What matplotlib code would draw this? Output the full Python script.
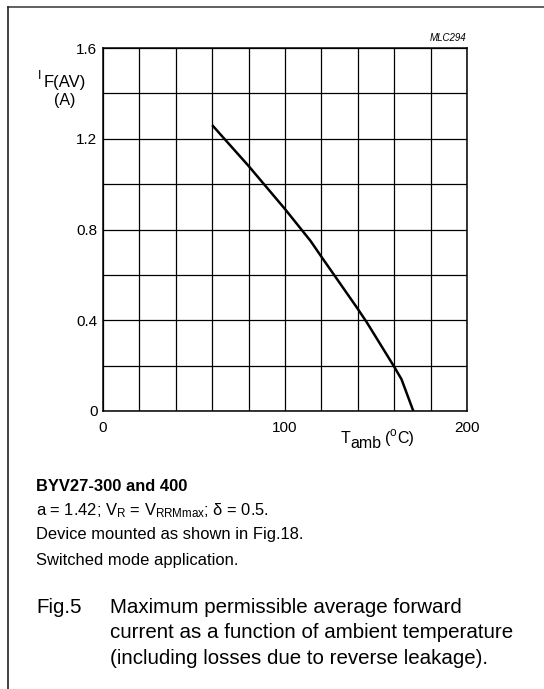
import matplotlib
matplotlib.use("Agg")
import matplotlib.pyplot as plt
from matplotlib.lines import Line2D

plt.rcParams['font.family'] = ['Liberation Sans', 'DejaVu Sans']
plt.rcParams['mathtext.fontset'] = 'custom'
plt.rcParams['mathtext.rm'] = 'Liberation Sans'
plt.rcParams['mathtext.it'] = 'Liberation Sans:italic'
plt.rcParams['mathtext.bf'] = 'Liberation Sans:bold'

# Derating curve: ambient temperature (°C) vs max average forward current (A)
t_amb = [60, 80, 100, 114, 120, 140, 145, 160, 164, 170.5]
i_fav = [1.26, 1.08, 0.89, 0.75, 0.68, 0.45, 0.39, 0.195, 0.14, 0.0]

x_ticks = [0, 100, 200]
y_ticks = [0, 0.4, 0.8, 1.2, 1.6]
y_tick_labels = ['0', '0.4', '0.8', '1.2', '1.6']
x_grid = list(range(0, 201, 20))
y_grid = [0, 0.2, 0.4, 0.6, 0.8, 1.0, 1.2, 1.4, 1.6]

W, H = 544, 689
fig = plt.figure(figsize=(W / 100, H / 100), dpi=100)
fig.patch.set_facecolor('white')


def fx(x):
    return x / W


def fy(y):
    return 1 - y / H


def put(x, y, s, size, **kw):
    kw.setdefault('va', 'baseline')
    kw.setdefault('ha', 'left')
    return fig.text(fx(x), fy(y), s, fontsize=size, **kw)


# open frame (top and left edges)
fig.add_artist(Line2D([fx(8), fx(544)], [fy(7), fy(7)], color='#444444', lw=1.2,
                      transform=fig.transFigure))
fig.add_artist(Line2D([fx(8), fx(8)], [fy(7), fy(689)], color='#222222', lw=1.2,
                      transform=fig.transFigure))

ax = fig.add_axes([fx(103), fy(411), fx(467) - fx(103), fy(48) - fy(411)])
ax.set_xlim(0, 200)
ax.set_ylim(0, 1.6)
for gx in x_grid:
    ax.axvline(gx, color='black', lw=0.9, zorder=1)
for gy in y_grid:
    ax.axhline(gy, color='black', lw=0.9, zorder=1)
for s in ax.spines.values():
    s.set_linewidth(1.1)
ax.plot(t_amb, i_fav, color='black', lw=1.8, zorder=3, solid_capstyle='butt')

ax.set_xticks(x_ticks)
ax.set_xticklabels([str(v) for v in x_ticks])
ax.set_yticks(y_ticks)
ax.set_yticklabels(y_tick_labels)
ax.tick_params(length=0, labelsize=11, pad=7)
ax.tick_params(axis='y', pad=4)

put(466, 41, 'MLC294', 7, style='italic', ha='right')

# y-axis quantity label
put(38, 79, 'I', 9)
put(44, 87, 'F(AV)', 12)
put(65, 104.5, '(A)', 11.5, ha='center')

# x-axis quantity label
put(341, 443, 'T', 11.5)
put(350, 447.5, 'amb', 11.5)
put(385, 443, '(', 11.5)
put(390, 436, 'o', 8.5)
put(397, 443, 'C)', 11.5)

# notes
note_size = 11.9
put(36, 491, 'BYV27-300 and 400', note_size, weight='bold')
put(36, 515, r'a = 1.42; V$_\mathregular{R}$ = V$_\mathregular{RRMmax}$; δ = 0.5.', note_size)
put(36, 539, 'Device mounted as shown in Fig.18.', note_size)
put(36, 565, 'Switched mode application.', note_size)

# figure caption
cap_size = 14.8
put(36, 613, 'Fig.5', cap_size)
cap = ['Maximum permissible average forward',
       'current as a function of ambient temperature',
       '(including losses due to reverse leakage).']
for k, line in enumerate(cap):
    put(110, 613 + 25.5 * k, line, cap_size)

fig.savefig('out.png', dpi=100, facecolor='white')
